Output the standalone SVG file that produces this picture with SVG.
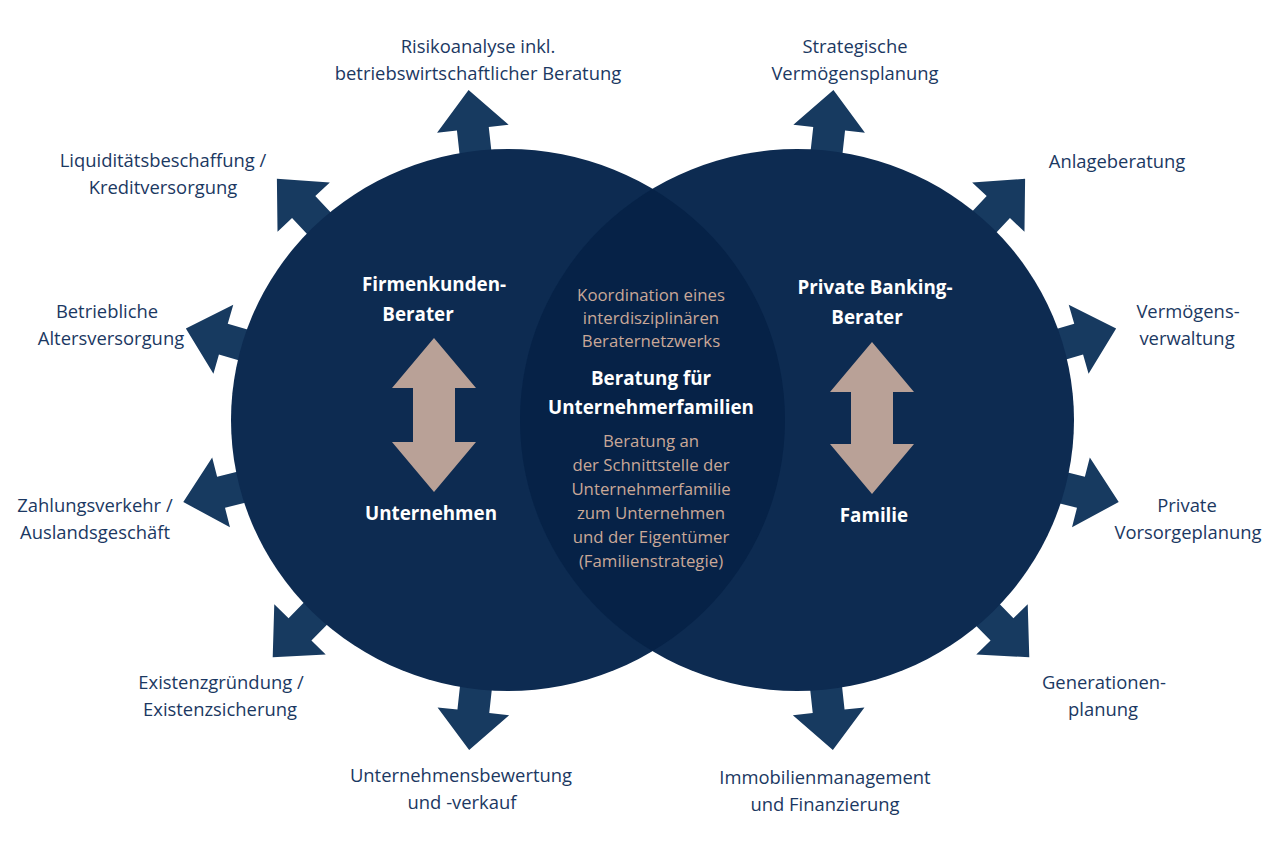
<svg xmlns="http://www.w3.org/2000/svg" width="1280" height="854" viewBox="0 0 1280 854">
<style>
.lbl{font-family:"Open Sans","Noto Sans","Liberation Sans",sans-serif;font-size:18.4px;fill:#1b3862;text-anchor:middle}
.hd{font-family:"Open Sans","Noto Sans","Liberation Sans",sans-serif;font-size:18.8px;font-weight:bold;fill:#ffffff;text-anchor:middle}
.bg{font-family:"Open Sans","Noto Sans","Liberation Sans",sans-serif;font-size:16.8px;fill:#c9a898;text-anchor:middle}
.arr{fill:#173a60}
.circ{fill:#0d2b51}
.lens{fill:#062247}
.dbl{fill:#b9a197}
</style>
<defs>
<path id="ar" d="M0,-332 L36,-293 L16,-293 L16,-262 L-16,-262 L-16,-293 L-36,-293 Z"/>
<clipPath id="clipL"><ellipse cx="508" cy="420" rx="277" ry="271"/></clipPath>
</defs>
<g id="connectors">
<use href="#ar" class="arr" transform="translate(505,420) rotate(-6.3)"/>
<use href="#ar" class="arr" transform="translate(505,420) rotate(-43.4)"/>
<use href="#ar" class="arr" transform="translate(505,420) rotate(-74)"/>
<use href="#ar" class="arr" transform="translate(505,420) rotate(-104.3)"/>
<use href="#ar" class="arr" transform="translate(505,420) rotate(-135.6)"/>
<use href="#ar" class="arr" transform="translate(505,420) rotate(-173.8)"/>
<use href="#ar" class="arr" transform="translate(797,420) rotate(6.3)"/>
<use href="#ar" class="arr" transform="translate(797,420) rotate(43.4)"/>
<use href="#ar" class="arr" transform="translate(797,420) rotate(74)"/>
<use href="#ar" class="arr" transform="translate(797,420) rotate(104.3)"/>
<use href="#ar" class="arr" transform="translate(797,420) rotate(135.6)"/>
<use href="#ar" class="arr" transform="translate(797,420) rotate(173.8)"/>
</g>
<g id="circle-left">
<ellipse class="circ" cx="508" cy="420" rx="277" ry="271"/>
</g>
<g id="circle-right">
<ellipse class="circ" cx="797" cy="420" rx="277" ry="271"/>
</g>
<g id="overlap">
<ellipse class="lens" cx="797" cy="420" rx="277" ry="271" clip-path="url(#clipL)"/>
</g>
<g id="node-firmenkunden">
<text class="hd" x="434" y="291">Firmenkunden-</text>
<text class="hd" x="418" y="321">Berater</text>
<path class="dbl" d="M434,338 L476,388 L455,388 L455,442 L476,442 L434,492 L392,442 L413,442 L413,388 L392,388 Z"/>
<text class="hd" x="431" y="520">Unternehmen</text>
</g>
<g id="node-private">
<text class="hd" x="875" y="294">Private Banking-</text>
<text class="hd" x="867" y="324">Berater</text>
<path class="dbl" d="M872,342 L914,392 L893,392 L893,444 L914,444 L872,494 L830,444 L851,444 L851,392 L830,392 Z"/>
<text class="hd" x="874" y="522">Familie</text>
</g>
<g id="node-center">
<text class="bg" x="651" y="301">Koordination eines</text>
<text class="bg" x="651" y="324">interdisziplinären</text>
<text class="bg" x="651" y="347">Beraternetzwerks</text>
<text class="hd" x="651" y="385">Beratung für</text>
<text class="hd" x="651" y="414">Unternehmerfamilien</text>
<text class="bg" x="651" y="447">Beratung an</text>
<text class="bg" x="651" y="471">der Schnittstelle der</text>
<text class="bg" x="651" y="495">Unternehmerfamilie</text>
<text class="bg" x="651" y="519">zum Unternehmen</text>
<text class="bg" x="651" y="543">und der Eigentümer</text>
<text class="bg" x="651" y="567">(Familienstrategie)</text>
</g>
<g id="label-risiko">
<text class="lbl" x="478" y="53">Risikoanalyse inkl.</text>
<text class="lbl" x="478" y="80">betriebswirtschaftlicher Beratung</text>
</g>
<g id="label-liquiditaet">
<text class="lbl" x="163" y="167">Liquiditätsbeschaffung /</text>
<text class="lbl" x="163" y="194">Kreditversorgung</text>
</g>
<g id="label-altersversorgung">
<text class="lbl" x="107" y="318">Betriebliche</text>
<text class="lbl" x="111" y="345">Altersversorgung</text>
</g>
<g id="label-zahlungsverkehr">
<text class="lbl" x="95" y="512">Zahlungsverkehr /</text>
<text class="lbl" x="95" y="539">Auslandsgeschäft</text>
</g>
<g id="label-existenz">
<text class="lbl" x="221" y="689">Existenzgründung /</text>
<text class="lbl" x="220" y="716">Existenzsicherung</text>
</g>
<g id="label-bewertung">
<text class="lbl" x="461" y="782">Unternehmensbewertung</text>
<text class="lbl" x="462" y="809">und -verkauf</text>
</g>
<g id="label-strategische">
<text class="lbl" x="855" y="53">Strategische</text>
<text class="lbl" x="855" y="80">Vermögensplanung</text>
</g>
<g id="label-anlage">
<text class="lbl" x="1117" y="168">Anlageberatung</text>
</g>
<g id="label-vermoegensverwaltung">
<text class="lbl" x="1188" y="318">Vermögens-</text>
<text class="lbl" x="1187" y="345">verwaltung</text>
</g>
<g id="label-vorsorge">
<text class="lbl" x="1187" y="512">Private</text>
<text class="lbl" x="1188" y="539">Vorsorgeplanung</text>
</g>
<g id="label-generationen">
<text class="lbl" x="1104" y="689">Generationen-</text>
<text class="lbl" x="1103" y="716">planung</text>
</g>
<g id="label-immobilien">
<text class="lbl" x="825" y="784">Immobilienmanagement</text>
<text class="lbl" x="825" y="811">und Finanzierung</text>
</g>
</svg>
